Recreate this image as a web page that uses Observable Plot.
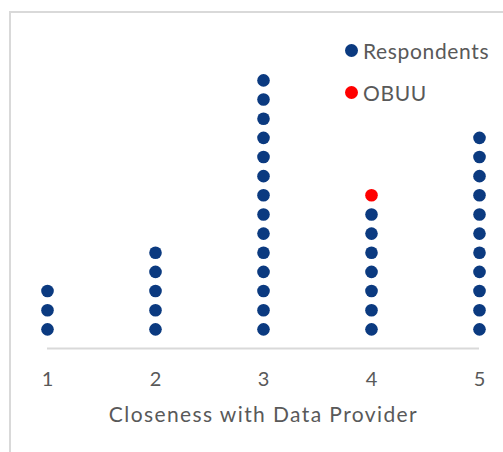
<!DOCTYPE html>
<html>
<head>
<meta charset="utf-8">
<script src="https://cdn.jsdelivr.net/npm/d3@7"></script>
<script src="https://cdn.jsdelivr.net/npm/@observablehq/plot@0.6"></script>
<style>
  html, body { margin: 0; padding: 0; background: #fff; overflow: hidden; }
  #wrap { position: relative; width: 503px; height: 452px; }
  #border { position: absolute; left: 9px; top: 11px; width: 600px; height: 600px;
            border-left: 2px solid #d9d9d9; border-top: 2px solid #d9d9d9; }
  #legend { position: absolute; left: 345px; top: 36px; font-family: Lato, sans-serif;
            font-size: 21px; letter-spacing: 0.65px; color: #595959; }
  .item { display: flex; align-items: center; height: 28px; margin-bottom: 14px; }
  .sw { width: 13px; height: 13px; border-radius: 50%; margin-right: 5px; }
  #chart { position: absolute; left: 0; top: 0; }
</style>
</head>
<body>
<div id="wrap">
  <div id="border"></div>
  <div id="chart"></div>
  <div id="legend"></div>
</div>
<script>
const categories = [1, 2, 3, 4, 5];
const respondents = [3, 5, 14, 7, 11];
const obuu = [0, 0, 0, 1, 0];
const seriesNames = ["Respondents", "OBUU"];
const seriesColors = ["#0b3a80", "#ff0000"];
const xTitle = "Closeness with Data Provider";

const dots = [];
categories.forEach((c, i) => {
  let level = 0;
  for (let k = 0; k < respondents[i]; k++) dots.push({x: c, y: ++level, s: seriesNames[0]});
  for (let k = 0; k < obuu[i]; k++) dots.push({x: c, y: ++level, s: seriesNames[1]});
});

const chart = Plot.plot({
  width: 503,
  height: 452,
  marginLeft: 47,
  marginRight: 24,
  marginTop: 41.6,
  marginBottom: 104,
  style: {background: "transparent", fontFamily: "Lato, sans-serif"},
  x: {domain: [1, 5], axis: null},
  y: {domain: [0, 16], axis: null},
  color: {domain: seriesNames, range: seriesColors},
  marks: [
    Plot.ruleY([0], {x1: categories[0], x2: categories[categories.length - 1], stroke: "#d9d9d9", strokeWidth: 2}),
    Plot.axisX({ticks: categories, tickSize: 0, tickPadding: 23, fontSize: 20, fill: "#595959", tickFormat: d => String(d), label: null}),
    Plot.dot(dots, {x: "x", y: "y", fill: "s", r: 6.3, stroke: null}),
    Plot.text([xTitle], {frameAnchor: "bottom", dy: 73, fontSize: 21, fill: "#595959", text: d => d})
  ]
});
chart.querySelectorAll("text").forEach(t => {
  if (t.textContent === xTitle) t.setAttribute("letter-spacing", "1.4");
});
document.getElementById("chart").appendChild(chart);

const legend = document.getElementById("legend");
seriesNames.forEach((n, i) => {
  const it = document.createElement("div");
  it.className = "item";
  const sw = document.createElement("span");
  sw.className = "sw";
  sw.style.background = seriesColors[i];
  const t = document.createElement("span");
  t.textContent = n;
  it.appendChild(sw); it.appendChild(t);
  legend.appendChild(it);
});
</script>
</body>
</html>
